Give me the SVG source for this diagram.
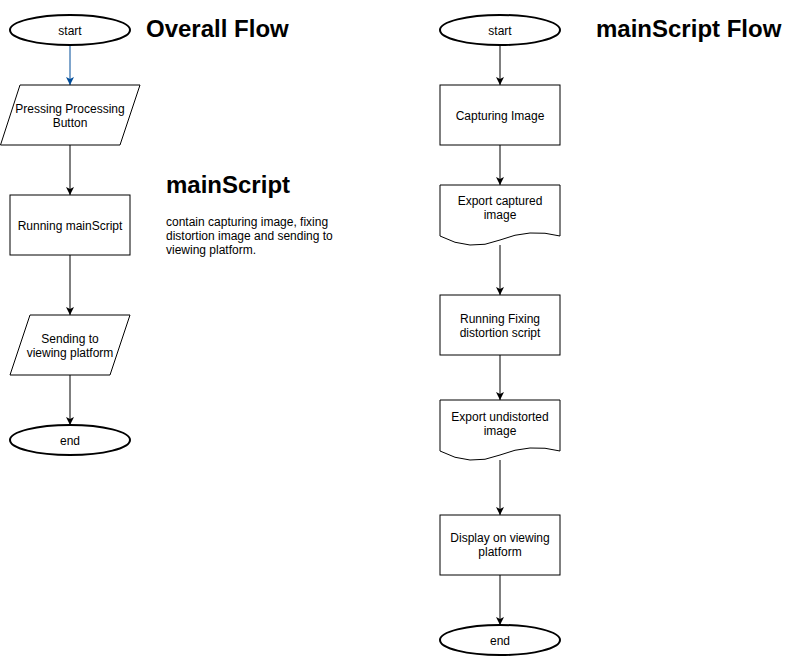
<svg xmlns="http://www.w3.org/2000/svg" width="801" height="656" viewBox="0 0 801 656">
<style>
text{font-family:"Liberation Sans",Arial,sans-serif;font-size:12px;fill:#000}
.c{text-anchor:middle}
.h{font-size:24px;font-weight:bold}
.sh{fill:#fff;stroke:#000;stroke-width:1}
.term{fill:#fff;stroke:#000;stroke-width:2}
.ln{fill:none;stroke:#000;stroke-width:1}
</style>
<defs>
<marker id="a" markerWidth="10" markerHeight="10" refX="9" refY="5" orient="auto" markerUnits="userSpaceOnUse">
<path d="M1,1 L9,5 L1,9 L3,5 Z" fill="#000"/>
</marker>
<marker id="ab" markerWidth="10" markerHeight="10" refX="9" refY="5" orient="auto" markerUnits="userSpaceOnUse">
<path d="M1,1 L9,5 L1,9 L3,5 Z" fill="#004C99"/>
</marker>
</defs>
<rect width="801" height="656" fill="#fff"/>
<g id="connectors">
<line x1="70" y1="46" x2="70" y2="85" stroke="#004C99" stroke-width="1" marker-end="url(#ab)"/>
<line class="ln" x1="70" y1="145" x2="70" y2="195" marker-end="url(#a)"/>
<line class="ln" x1="70" y1="255" x2="70" y2="315" marker-end="url(#a)"/>
<line class="ln" x1="70" y1="375" x2="70" y2="425" marker-end="url(#a)"/>
<line class="ln" x1="500" y1="46" x2="500" y2="85" marker-end="url(#a)"/>
<line class="ln" x1="500" y1="145" x2="500" y2="185" marker-end="url(#a)"/>
<line class="ln" x1="500" y1="245" x2="500" y2="295" marker-end="url(#a)"/>
<line class="ln" x1="500" y1="355" x2="500" y2="400" marker-end="url(#a)"/>
<line class="ln" x1="500" y1="460" x2="500" y2="515" marker-end="url(#a)"/>
<line class="ln" x1="500" y1="575" x2="500" y2="625" marker-end="url(#a)"/>
</g>
<g id="title-overall"><text class="h" x="146" y="37">Overall Flow</text></g>
<g id="title-main"><text class="h" x="596" y="37">mainScript Flow</text></g>
<g id="note">
<text class="h" x="166" y="193">mainScript</text>
<text x="166" y="226">contain capturing image, fixing</text>
<text x="166" y="240">distortion image and sending to</text>
<text x="166" y="254">viewing platform.</text>
</g>
<g id="l-start"><ellipse class="term" cx="70" cy="30" rx="60" ry="15"/><text class="c" x="70" y="35">start</text></g>
<g id="l-press"><polygon class="sh" points="20,85 140,85 120,145 0.5,145"/><text class="c" x="70" y="113">Pressing Processing</text><text class="c" x="70" y="127">Button</text></g>
<g id="l-run"><rect class="sh" x="10" y="195" width="120" height="60"/><text class="c" x="70" y="229.5">Running mainScript</text></g>
<g id="l-send"><polygon class="sh" points="30,315 130,315 110,375 10,375"/><text class="c" x="70" y="342.5">Sending to</text><text class="c" x="70" y="356.5">viewing platform</text></g>
<g id="l-end"><ellipse class="term" cx="70" cy="440" rx="60" ry="15"/><text class="c" x="70" y="444.5">end</text></g>
<g id="r-start"><ellipse class="term" cx="500" cy="30" rx="60" ry="15"/><text class="c" x="500" y="35">start</text></g>
<g id="r-capture"><rect class="sh" x="440" y="85" width="120" height="60"/><text class="c" x="500" y="120">Capturing Image</text></g>
<g id="r-export1"><path class="sh" d="M440,185 H560 V236 Q530,228 500,240 Q470,252 440,236 Z"/><text class="c" x="500" y="205">Export captured</text><text class="c" x="500" y="219">image</text></g>
<g id="r-fix"><rect class="sh" x="440" y="295" width="120" height="60"/><text class="c" x="500" y="323">Running Fixing</text><text class="c" x="500" y="337">distortion script</text></g>
<g id="r-export2"><path class="sh" d="M440,400 H560 V451 Q530,443 500,455 Q470,467 440,451 Z"/><text class="c" x="500" y="421">Export undistorted</text><text class="c" x="500" y="435">image</text></g>
<g id="r-display"><rect class="sh" x="440" y="515" width="120" height="60"/><text class="c" x="500" y="542">Display on viewing</text><text class="c" x="500" y="556">platform</text></g>
<g id="r-end"><ellipse class="term" cx="500" cy="640" rx="60" ry="15"/><text class="c" x="500" y="644.5">end</text></g>
</svg>
